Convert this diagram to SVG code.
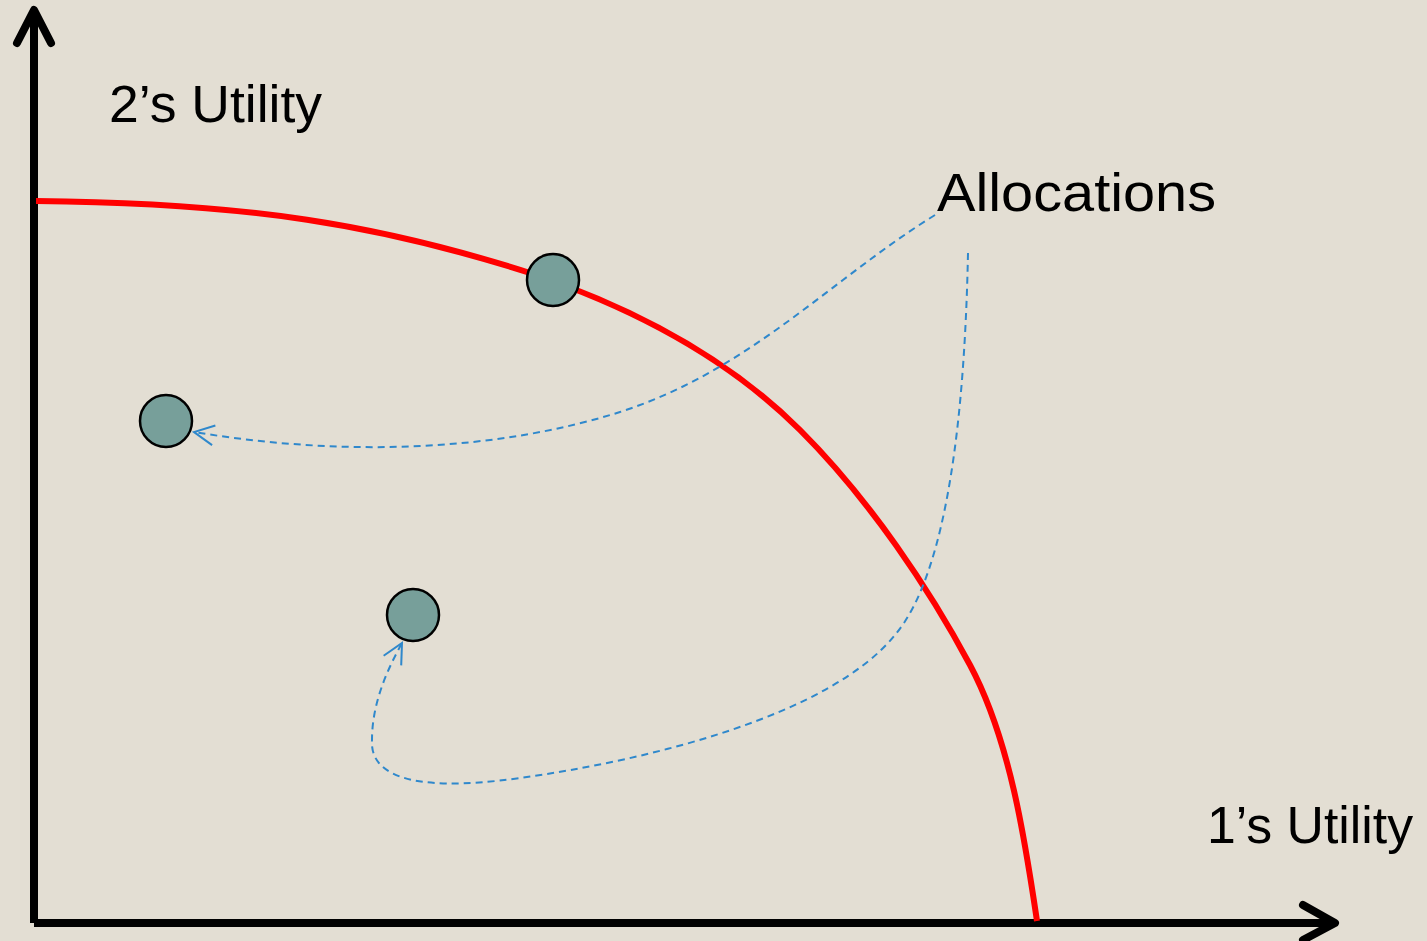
<svg xmlns="http://www.w3.org/2000/svg" width="1427" height="941" viewBox="0 0 1427 941">
  <defs>
    <marker id="openArrow" viewBox="0 0 24 24" refX="22" refY="12" markerWidth="24" markerHeight="24" markerUnits="userSpaceOnUse" orient="auto">
      <path d="M2,2 L22,12 L2,22" fill="none" stroke="#2f88cc" stroke-width="2"/>
    </marker>
  </defs>
  <style>
    .axis { fill: none; stroke: #000; stroke-width: 8; stroke-linecap: round; stroke-linejoin: round; }
    .frontier { fill: none; stroke: #ff0000; stroke-width: 6; }
    .flow { fill: none; stroke: #2f88cc; stroke-width: 2; stroke-dasharray: 7 5; }
    .dot { fill: #779f9a; stroke: #000; stroke-width: 2.5; }
    .lbl { font-family: "Liberation Sans", "DejaVu Sans", sans-serif; fill: #000; }
  </style>
  <rect x="0" y="0" width="1427" height="941" fill="#e3ded3"/>

  <g id="axes">
    <path class="axis" d="M34,923 L34,12" style="stroke-linecap:butt"/>
    <path class="axis" d="M17,43 L34,10 L51,43"/>
    <path class="axis" d="M34,923 L1333,923" style="stroke-linecap:butt"/>
    <path class="axis" d="M1303,905 L1335,923 L1303,940"/>
  </g>

  <g id="frontier">
    <path class="frontier" d="M36,201 C 250,203 380,225 530,273 C 640,310 730,360 800,430 C 870,500 930,590 970,665 C 1010,740 1025,840 1037,921"/>
  </g>

  <g id="node-top">
    <circle class="dot" cx="553" cy="280" r="26"/>
  </g>
  <g id="node-left">
    <circle class="dot" cx="166" cy="421" r="26"/>
  </g>
  <g id="node-low">
    <circle class="dot" cx="413" cy="615" r="26"/>
  </g>

  <g id="connectors">
    <path class="flow" marker-end="url(#openArrow)" d="M935,215 C 830,280 750,370 620,412 C 500,450 350,458 194,432"/>
    <path class="flow" marker-end="url(#openArrow)" d="M968,253 C 965,400 950,570 895,635 C 830,715 650,760 520,778 C 400,795 370,770 372,740 C 372,700 390,665 402,643"/>
  </g>

  <g id="labels">
    <text class="lbl" x="109" y="122" font-size="51" textLength="213" lengthAdjust="spacingAndGlyphs">2’s Utility</text>
    <text class="lbl" x="937" y="211" font-size="53" textLength="279" lengthAdjust="spacingAndGlyphs">Allocations</text>
    <text class="lbl" x="1207" y="843" font-size="52" textLength="206" lengthAdjust="spacingAndGlyphs">1’s Utility</text>
  </g>
</svg>
